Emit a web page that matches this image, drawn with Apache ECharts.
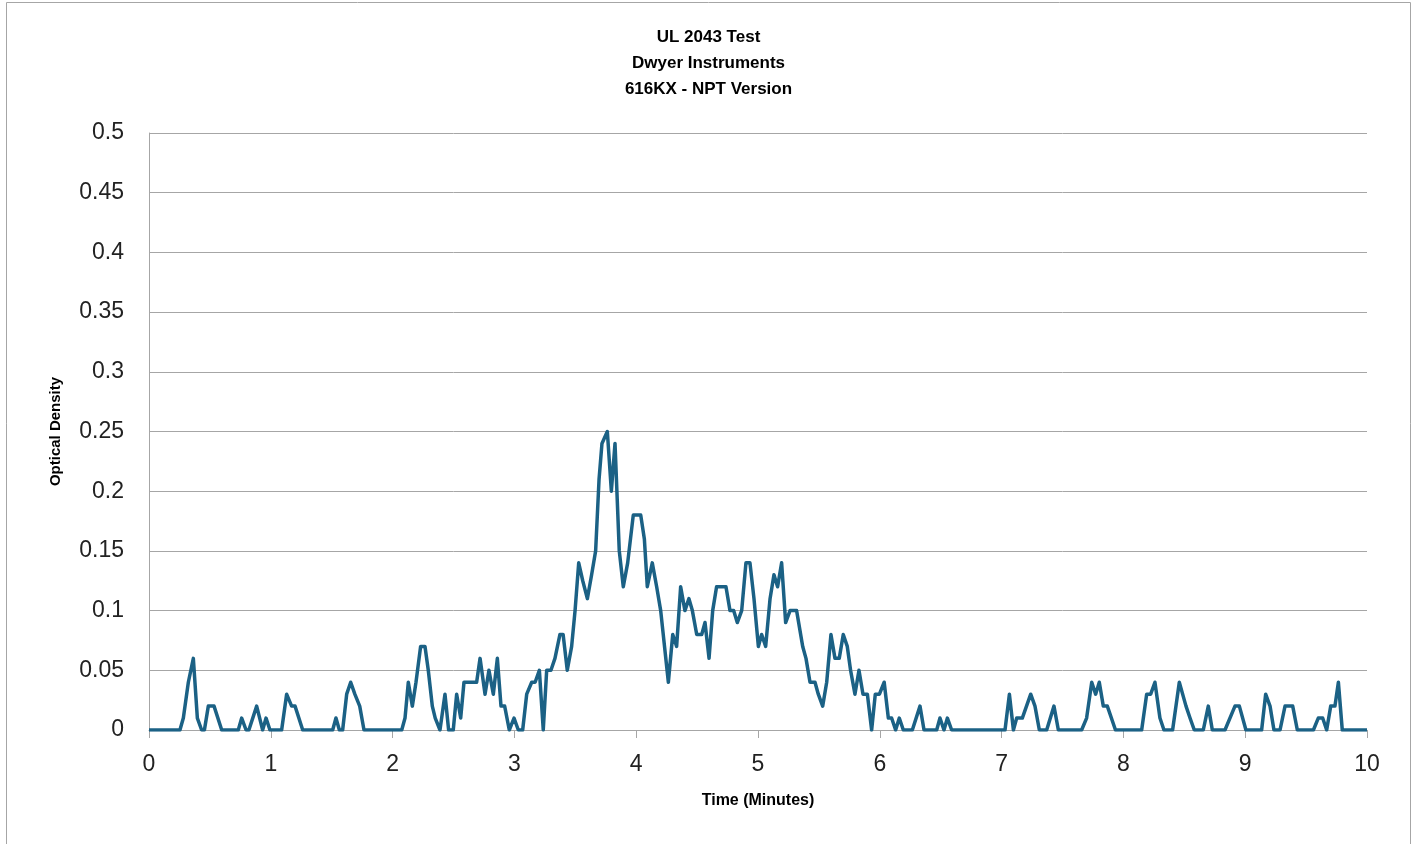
<!DOCTYPE html>
<html>
<head>
<meta charset="utf-8">
<script src="https://cdn.jsdelivr.net/npm/echarts@6/dist/echarts.min.js"></script>
<style>
  html, body { margin: 0; padding: 0; background: #fff; }
  #chart { width: 1417px; height: 844px; }
</style>
</head>
<body>
<div id="chart"></div>
<script>
// time in minutes at each vertex of the trace
const times = [
  0, 0.254, 0.282, 0.323, 0.364, 0.397, 0.432, 0.455, 0.487, 0.534, 0.597,
  0.733, 0.761, 0.797, 0.82, 0.884, 0.933, 0.961, 0.993,
  1.089, 1.13, 1.171, 1.199, 1.262, 1.508, 1.535, 1.563, 1.59, 1.623, 1.656, 1.69, 1.73, 1.765,
  2.075, 2.102, 2.129, 2.162, 2.192, 2.23, 2.266, 2.293, 2.326, 2.35, 2.389, 2.43, 2.46, 2.498,
  2.526, 2.559, 2.586, 2.69, 2.718, 2.759, 2.791, 2.827, 2.86, 2.89, 2.92, 2.958, 2.997,
  3.032, 3.068, 3.101, 3.142, 3.17, 3.205, 3.237, 3.265, 3.3, 3.333, 3.374, 3.4, 3.434, 3.47,
  3.498, 3.528, 3.561, 3.599, 3.634, 3.667, 3.695, 3.719, 3.763, 3.796, 3.826, 3.861, 3.894,
  3.93, 3.976, 4.037, 4.067, 4.091, 4.132, 4.168, 4.201, 4.264, 4.3, 4.332, 4.365, 4.4, 4.433,
  4.461, 4.497, 4.538, 4.565, 4.598, 4.628, 4.66, 4.737, 4.77, 4.8, 4.83, 4.866, 4.901, 4.934,
  4.967, 5.003, 5.03, 5.063, 5.099, 5.131, 5.161, 5.194, 5.227, 5.263, 5.317, 5.367, 5.394,
  5.427, 5.468, 5.495, 5.531, 5.564, 5.599, 5.632, 5.667, 5.7, 5.733, 5.76, 5.796, 5.829,
  5.862, 5.898, 5.933, 5.963, 5.997, 6.036, 6.07, 6.097, 6.13, 6.16, 6.193, 6.267, 6.33, 6.363,
  6.467, 6.494, 6.527, 6.555, 6.59, 7.028, 7.064, 7.097, 7.124, 7.17, 7.239, 7.274, 7.31, 7.37,
  7.43, 7.466, 7.657, 7.698, 7.74, 7.772, 7.802, 7.835, 7.868, 7.935, 8.15, 8.191, 8.224, 8.259,
  8.3, 8.333, 8.404, 8.459, 8.514, 8.547, 8.582, 8.656, 8.697, 8.73, 8.834, 8.916, 8.952, 9.006,
  9.135, 9.168, 9.204, 9.236, 9.286, 9.327, 9.39, 9.428, 9.56, 9.6, 9.636, 9.669, 9.702, 9.737,
  9.765, 9.797, 10
]
const density = [
  0, 0, 0.01, 0.04, 0.06, 0.01, 0, 0, 0.02, 0.02, 0,
  0, 0.01, 0, 0, 0.02, 0, 0.01, 0,
  0, 0.03, 0.02, 0.02, 0, 0, 0.01, 0, 0, 0.03, 0.04, 0.03, 0.02, 0,
  0, 0.01, 0.04, 0.02, 0.04, 0.07, 0.07, 0.05, 0.02, 0.01, 0, 0.03, 0, 0,
  0.03, 0.01, 0.04, 0.04, 0.06, 0.03, 0.05, 0.03, 0.06, 0.02, 0.02, 0, 0.01,
  0, 0, 0.03, 0.04, 0.04, 0.05, 0, 0.05, 0.05, 0.06, 0.08, 0.08, 0.05, 0.07,
  0.1, 0.14, 0.125, 0.11, 0.13, 0.15, 0.21, 0.24, 0.25, 0.2, 0.24, 0.15, 0.12,
  0.14, 0.18, 0.18, 0.16, 0.12, 0.14, 0.12, 0.1, 0.04, 0.08, 0.07, 0.12, 0.1, 0.11,
  0.1, 0.08, 0.08, 0.09, 0.06, 0.1, 0.12, 0.12, 0.1, 0.1, 0.09, 0.1, 0.14, 0.14,
  0.11, 0.07, 0.08, 0.07, 0.11, 0.13, 0.12, 0.14, 0.09, 0.1, 0.1, 0.07, 0.06,
  0.04, 0.04, 0.03, 0.02, 0.04, 0.08, 0.06, 0.06, 0.08, 0.07, 0.05, 0.03, 0.05,
  0.03, 0.03, 0, 0.03, 0.03, 0.04, 0.01, 0.01, 0, 0.01, 0, 0, 0.02, 0,
  0, 0.01, 0, 0.01, 0, 0, 0.03, 0, 0.01, 0.01, 0.03, 0.02, 0, 0,
  0.02, 0, 0, 0.01, 0.04, 0.03, 0.04, 0.02, 0.02, 0, 0, 0.03, 0.03, 0.04,
  0.01, 0, 0, 0.04, 0.02, 0.01, 0, 0, 0.02, 0, 0, 0.02, 0.02, 0,
  0, 0.03, 0.02, 0, 0, 0.02, 0.02, 0, 0, 0.01, 0.01, 0, 0.02, 0.02,
  0.04, 0, 0
]

const titleLines = ['UL 2043 Test', 'Dwyer Instruments', '616KX - NPT Version']

let myChart = echarts.init(document.getElementById('chart'))
let option = {
  animation: false,
  backgroundColor: '#fff',
  title: {
    text: titleLines.join('\n'),
    left: 'center',
    top: 19,
    textStyle: {
      fontFamily: 'Liberation Sans',
      fontSize: 17,
      fontWeight: 'bold',
      lineHeight: 26,
      color: '#000',
    },
  },
  graphic: [
    {
      type: 'polyline',
      shape: { points: [[6.5, 844], [6.5, 2.5], [1410.5, 2.5], [1410.5, 844]] },
      style: { stroke: '#a6a6a6', fill: null, lineWidth: 1 },
      silent: true,
    },
  ],
  grid: {
    left: 149,
    right: 50,
    top: 133,
    bottom: 114,
  },
  xAxis: {
    type: 'value',
    min: 0,
    max: 10,
    interval: 1,
    name: 'Time (Minutes)',
    nameLocation: 'middle',
    nameGap: 63,
    nameTextStyle: {
      fontFamily: 'Liberation Sans',
      fontSize: 16,
      fontWeight: 'bold',
      color: '#000',
    },
    axisLine: { lineStyle: { color: '#a6a6a6', width: 1 } },
    axisTick: { show: true, length: 8, lineStyle: { color: '#a6a6a6' } },
    axisLabel: {
      fontFamily: 'Liberation Sans',
      fontSize: 23,
      color: '#222',
      margin: 23,
    },
    splitLine: { show: false },
  },
  yAxis: {
    type: 'value',
    min: 0,
    max: 0.5,
    interval: 0.05,
    name: 'Optical Density',
    nameLocation: 'middle',
    nameGap: 86,
    nameTextStyle: {
      fontFamily: 'Liberation Sans',
      fontSize: 15,
      fontWeight: 'bold',
      color: '#000',
    },
    axisLine: { show: true, lineStyle: { color: '#a6a6a6', width: 1 } },
    axisTick: { show: false },
    axisLabel: {
      fontFamily: 'Liberation Sans',
      fontSize: 23,
      color: '#222',
      margin: 25,
    },
    splitLine: { lineStyle: { color: '#a6a6a6', width: 1 } },
  },
  series: [
    {
      type: 'line',
      data: times.map((t, i) => [t, density[i]]),
      showSymbol: false,
      lineStyle: { color: '#1b6185', width: 3.5, join: 'round' },
      itemStyle: { color: '#1b6185' },
    },
  ],
}
myChart.setOption(option)
</script>
</body>
</html>
